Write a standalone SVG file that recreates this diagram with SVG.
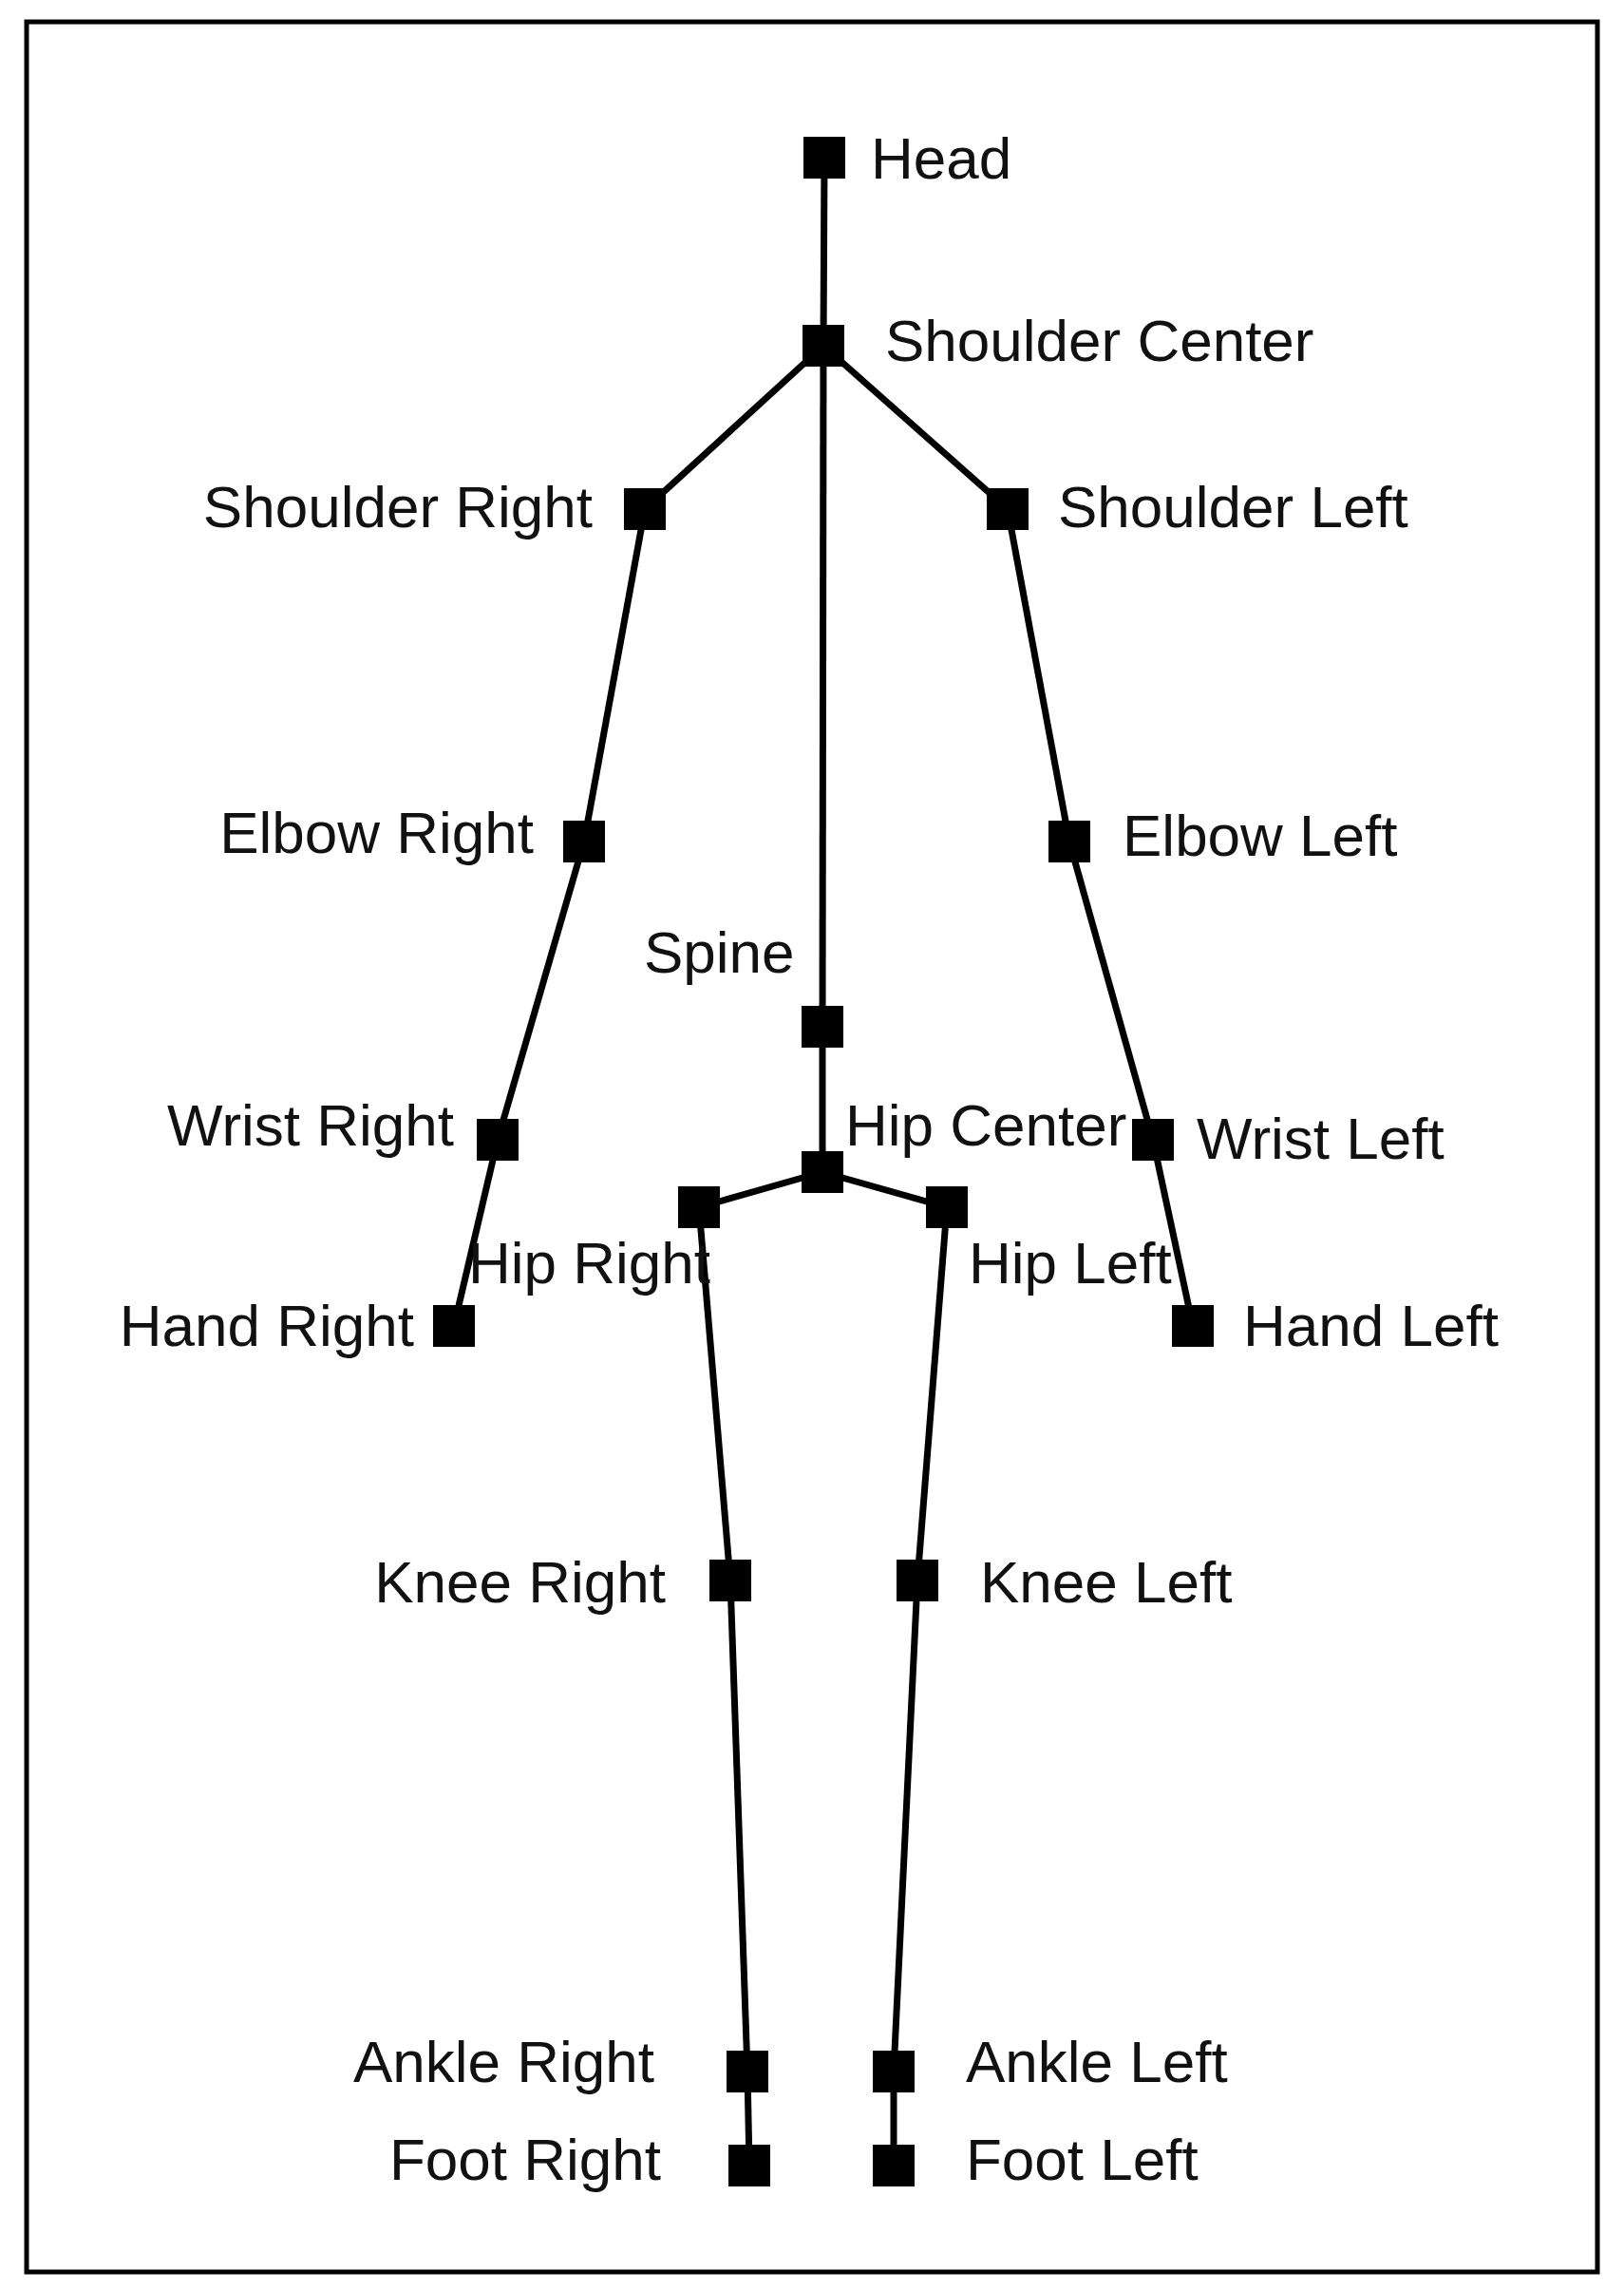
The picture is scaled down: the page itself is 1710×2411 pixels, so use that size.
<svg xmlns="http://www.w3.org/2000/svg" width="1710" height="2411" viewBox="0 0 1710 2411">
<style>
.n{fill:#000}
.t{font-family:"Liberation Sans",Arial,sans-serif;font-size:62px;fill:#111}
.e{text-anchor:end}
#edges line{stroke:#000;stroke-width:7}
</style>
<defs><rect id="sq" x="-22" y="-22" width="44" height="44" class="n"/></defs>
<rect x="28" y="23" width="1654" height="2369" fill="#fff" stroke="#000" stroke-width="5"/>
<g id="edges">
<line x1="868" y1="166" x2="867" y2="364"/>
<line x1="867" y1="364" x2="679" y2="536"/>
<line x1="867" y1="364" x2="1061" y2="536"/>
<line x1="867" y1="364" x2="866" y2="1081"/>
<line x1="866" y1="1081" x2="866" y2="1234"/>
<line x1="679" y1="536" x2="615" y2="886"/>
<line x1="615" y1="886" x2="524" y2="1200"/>
<line x1="524" y1="1200" x2="478" y2="1396"/>
<line x1="1061" y1="536" x2="1126" y2="886"/>
<line x1="1126" y1="886" x2="1214" y2="1200"/>
<line x1="1214" y1="1200" x2="1256" y2="1396"/>
<line x1="866" y1="1234" x2="736" y2="1271"/>
<line x1="866" y1="1234" x2="997" y2="1271"/>
<line x1="736" y1="1271" x2="769" y2="1664"/>
<line x1="769" y1="1664" x2="787" y2="2181"/>
<line x1="787" y1="2181" x2="789" y2="2280"/>
<line x1="997" y1="1271" x2="966" y2="1664"/>
<line x1="966" y1="1664" x2="941" y2="2181"/>
<line x1="941" y1="2181" x2="941" y2="2280"/>
</g>
<g id="head"><use href="#sq" x="868" y="166"/><text class="t" x="917" y="188">Head</text></g>
<g id="shoulder-center"><use href="#sq" x="867" y="364"/><text class="t" x="932" y="380">Shoulder Center</text></g>
<g id="shoulder-right"><use href="#sq" x="679" y="536"/><text class="t e" x="624" y="555">Shoulder Right</text></g>
<g id="shoulder-left"><use href="#sq" x="1061" y="536"/><text class="t" x="1114" y="555">Shoulder Left</text></g>
<g id="elbow-right"><use href="#sq" x="615" y="886"/><text class="t e" x="562" y="898">Elbow Right</text></g>
<g id="elbow-left"><use href="#sq" x="1126" y="886"/><text class="t" x="1182" y="901">Elbow Left</text></g>
<g id="spine"><use href="#sq" x="866" y="1081"/><text class="t" x="678" y="1024">Spine</text></g>
<g id="wrist-right"><use href="#sq" x="524" y="1200"/><text class="t e" x="478" y="1206">Wrist Right</text></g>
<g id="wrist-left"><use href="#sq" x="1214" y="1200"/><text class="t" x="1260" y="1220">Wrist Left</text></g>
<g id="hip-center"><use href="#sq" x="866" y="1234"/><text class="t" x="890" y="1206">Hip Center</text></g>
<g id="hip-right"><use href="#sq" x="736" y="1271"/><text class="t" x="493" y="1351">Hip Right</text></g>
<g id="hip-left"><use href="#sq" x="997" y="1271"/><text class="t" x="1020" y="1351">Hip Left</text></g>
<g id="hand-right"><use href="#sq" x="478" y="1396"/><text class="t e" x="436" y="1417">Hand Right</text></g>
<g id="hand-left"><use href="#sq" x="1256" y="1396"/><text class="t" x="1309" y="1417">Hand Left</text></g>
<g id="knee-right"><use href="#sq" x="769" y="1664"/><text class="t e" x="701" y="1687">Knee Right</text></g>
<g id="knee-left"><use href="#sq" x="966" y="1664"/><text class="t" x="1032" y="1687">Knee Left</text></g>
<g id="ankle-right"><use href="#sq" x="787" y="2181"/><text class="t e" x="689" y="2192">Ankle Right</text></g>
<g id="ankle-left"><use href="#sq" x="941" y="2181"/><text class="t" x="1017" y="2192">Ankle Left</text></g>
<g id="foot-right"><use href="#sq" x="789" y="2280"/><text class="t e" x="696" y="2295">Foot Right</text></g>
<g id="foot-left"><use href="#sq" x="941" y="2280"/><text class="t" x="1017" y="2295">Foot Left</text></g>
</svg>
